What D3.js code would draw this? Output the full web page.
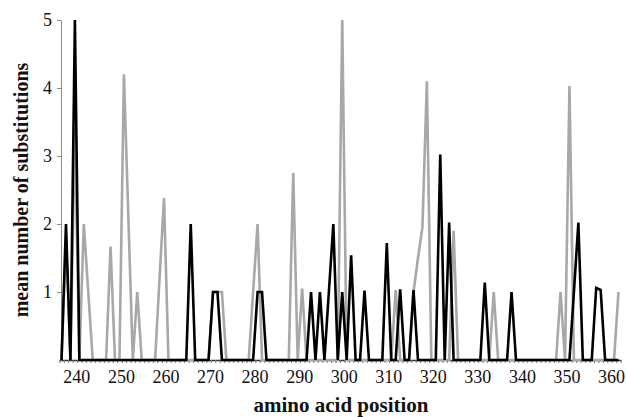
<!DOCTYPE html>
<html>
<head>
<meta charset="utf-8">
<script src="https://cdnjs.cloudflare.com/ajax/libs/d3/7.8.5/d3.min.js"></script>
<style>
  body { margin: 0; background: #ffffff; }
  svg { display: block; font-family: "Liberation Serif", "Times New Roman", serif; }
</style>
</head>
<body>
<script>

// first and last amino acid position in the plot
var firstPosition = 236;
var lastPosition = 361;

// mean number of substitutions per position, black series (236 .. 361)
var blackSeries = [
  0, 2, 0, 5, 0, 0, 0, 0, 0, 0,
  0, 0, 0, 0, 0, 0, 0, 0, 0, 0,
  0, 0, 0, 0, 0, 0, 0, 0, 0, 2,
  0, 0, 0, 0, 1, 1, 0, 0, 0, 0,
  0, 0, 0, 0, 1, 1, 0, 0, 0, 0,
  0, 0, 0, 0, 0, 0, 1, 0, 1, 0,
  1, 2, 0, 1, 0, 1.54, 0, 0, 1.02, 0,
  0, 0, 0, 1.72, 0, 0, 1.04, 0, 0, 1.03,
  0, 0, 0, 0, 0, 3.02, 0, 2.02, 0, 0,
  0, 0, 0, 0, 0, 1.14, 0, 0, 0, 0,
  0, 1, 0, 0, 0, 0, 0, 0, 0, 0,
  0, 0, 0, 0, 0, 1, 2.02, 0, 0, 0,
  1.06, 1.03, 0, 0, 0, 0
];

// mean number of substitutions per position, gray series (236 .. 361)
var graySeries = [
  0, 1.8, 0, 3.4, 0, 2, 1, 0, 0, 0,
  0, 1.67, 0, 0, 4.2, 2.1, 0, 1, 0, 0,
  0, 0, 1.2, 2.38, 0, 0, 0, 0, 0, 0,
  0, 0, 0, 0, 1, 1, 1, 0, 0, 0,
  0, 0, 0, 1, 2, 0, 0, 0, 0, 0,
  0, 0, 2.75, 0, 1.05, 0, 0, 0, 0, 0,
  0, 0, 0, 5, 0, 0, 0, 0, 0, 0,
  0, 0, 0, 0, 0, 1.03, 0, 0, 0, 1,
  1.5, 1.95, 4.1, 0, 0, 0, 0, 0, 1.9, 0,
  0, 0, 0, 0, 0, 0, 0, 1, 0, 0,
  0, 0, 0, 0, 0, 0, 0, 0, 0, 0,
  0, 0, 1, 0, 4.03, 0, 0, 0, 0, 0,
  0, 0, 0, 0, 0, 1
];

// tick labels
var xTickValues = [240, 250, 260, 270, 280, 290, 300, 310, 320, 330, 340, 350, 360];
var yTickValues = [1, 2, 3, 4, 5];

var xLabel = "amino acid position";
var yLabel = "mean number of substitutions";


window.onload = function() {
  main();
};


function main() {
  /*
  Builds the svg and draws axes and both series
  */

  var param = {
    width: 626,
    height: 417
  };

  var svg = d3.select("body")
              .append("svg")
              .attr("width", param.width)
              .attr("height", param.height);

  svg.append("rect")
     .attr("width", param.width)
     .attr("height", param.height)
     .attr("fill", "#ffffff");

  // positions run between half categories, like a category axis
  var xScale = d3.scaleLinear()
                 .domain([firstPosition - 0.5, lastPosition + 0.5])
                 .range([59.3, 620.7]);
  var yScale = d3.scaleLinear()
                 .domain([0, 5])
                 .range([360, 20]);

  axesMaker(svg, xScale, yScale);
  linePlotter(svg, xScale, yScale);
  labelMaker(svg);
};


function axesMaker(svg, xScale, yScale) {
  /*
  Draws the x axis with small ticks per position and the y axis
  */

  // small ticks between every position
  var minorTicks = d3.range(firstPosition - 0.5, lastPosition + 1, 1);
  var xMinor = d3.axisBottom(xScale)
                 .tickValues(minorTicks)
                 .tickSizeInner(3)
                 .tickSizeOuter(0)
                 .tickFormat("");

  var gx = svg.append("g")
              .attr("transform", "translate(0,360)")
              .call(xMinor);
  gx.select(".domain").attr("stroke", "#333").attr("stroke-width", 1.5);
  gx.selectAll(".tick line").attr("stroke", "#777");

  // labels for every tenth position
  var xLabels = d3.axisBottom(xScale)
                  .tickValues(xTickValues)
                  .tickSize(0)
                  .tickPadding(10)
                  .tickFormat(d3.format("d"));

  var gl = svg.append("g")
              .attr("transform", "translate(0,360)")
              .call(xLabels);
  gl.select(".domain").remove();
  gl.selectAll("text")
    .attr("dx", -3)
    .attr("font-size", 18)
    .attr("font-family", "Liberation Serif")
    .attr("fill", "#111");

  // y axis
  var yAxis = d3.axisLeft(yScale)
                .tickValues(yTickValues)
                .tickSizeInner(4)
                .tickSizeOuter(0)
                .tickPadding(5)
                .tickFormat(d3.format("d"));

  var gy = svg.append("g")
              .attr("transform", "translate(61,0)")
              .call(yAxis);
  gy.select(".domain").attr("stroke", "#888");
  gy.selectAll(".tick line").attr("stroke", "#888");
  gy.selectAll("text")
    .attr("font-size", 18)
    .attr("font-family", "Liberation Serif")
    .attr("fill", "#111");
};


function linePlotter(svg, xScale, yScale) {
  /*
  Draws the gray series first and the black series on top
  */

  var positions = d3.range(firstPosition, lastPosition + 1);

  var line = d3.line()
               .x(function(d, i) { return xScale(positions[i]); })
               .y(function(d) { return yScale(d); });

  svg.append("path")
     .datum(graySeries)
     .attr("fill", "none")
     .attr("stroke", "#a8a8a8")
     .attr("stroke-width", 2.6)
     .attr("d", line);

  svg.append("path")
     .datum(blackSeries)
     .attr("fill", "none")
     .attr("stroke", "#000000")
     .attr("stroke-width", 2.6)
     .attr("d", line);
};


function labelMaker(svg) {
  /*
  Axis titles
  */

  svg.append("text")
     .attr("x", 341)
     .attr("y", 412)
     .attr("text-anchor", "middle")
     .attr("font-size", 21)
     .attr("font-weight", "bold")
     .attr("fill", "#111")
     .text(xLabel);

  svg.append("text")
     .attr("transform", "rotate(-90)")
     .attr("x", -190)
     .attr("y", 28)
     .attr("text-anchor", "middle")
     .attr("font-size", 20)
     .attr("font-weight", "bold")
     .attr("fill", "#111")
     .text(yLabel);
};

</script>
</body>
</html>
